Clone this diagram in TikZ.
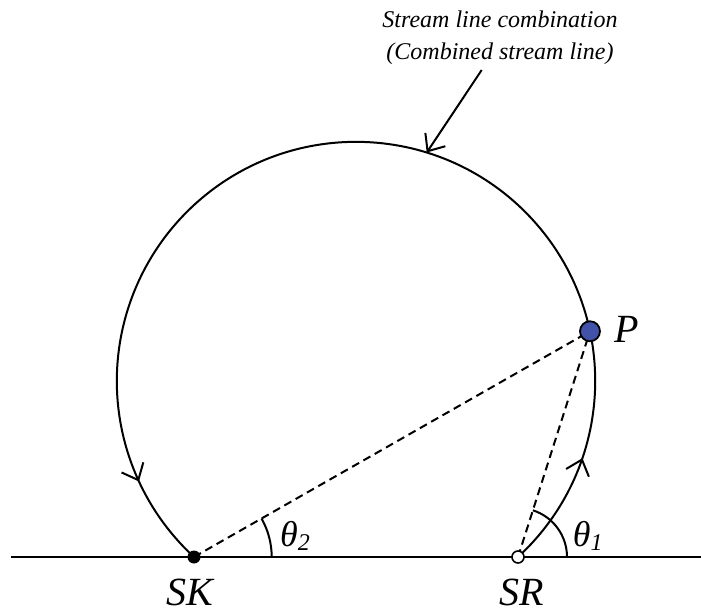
\documentclass[tikz,border=0pt]{standalone}
\usepackage{fontspec}
\setmainfont{Liberation Serif}
\usetikzlibrary{arrows.meta,decorations.markings,calc}
\definecolor{pblue}{RGB}{66,82,168}
\begin{document}
\begin{tikzpicture}[x=1pt,y=1pt,
  baseln/.style={line width=2.4pt},
  stream/.style={line width=2pt},
  dashln/.style={line width=2pt, dash pattern=on 8pt off 5pt},
  anglearc/.style={line width=2pt},
  barb/.tip={Straight Barb[length=14pt,width=24pt,line width=2pt]},
  sinkdot/.style={circle, fill=black, minimum size=13pt, inner sep=0pt},
  srcdot/.style={circle, draw=black, fill=white, line width=1.6pt, minimum size=12pt, inner sep=0pt},
  pdot/.style={circle, draw=black, fill=pblue, line width=1.8pt, minimum size=20pt, inner sep=0pt},
  biglbl/.style={font=\fontsize{40}{40}\selectfont\itshape, inner sep=0pt, anchor=base west},
  thlbl/.style={inner sep=0pt, anchor=base west},
  note/.style={font=\fontsize{24}{31.6}\selectfont\itshape, align=center, inner sep=0pt}
]
\useasboundingbox (0,0) rectangle (701,614);
% baseline
\coordinate (L) at (11,57);
\coordinate (R) at (701,57);
\draw[baseln] (L) -- (R);
% points
\coordinate (C) at (356,233);
\coordinate (SKc) at (194,57);
\coordinate (SRc) at (518,57);
\coordinate (Pc) at ($(C)+(12:239.2)$);
% dashed lines
\draw[dashln] (SKc) -- (Pc);
\draw[dashln] (SRc) -- (Pc);
% streamline circle arc from SR to SK
\draw[stream, postaction={decorate}, decoration={markings,
   mark=at position 0.104 with {\arrow{barb}},
   mark=at position 0.918 with {\arrow{barb}}}]
   (SRc) arc[start angle=-47.37, end angle=227.37, radius=239.2];
% angle arcs
\draw[anglearc] ($(SKc)+(77.7,0)$) arc[start angle=0, end angle=29.7, radius=77.7];
\draw[anglearc] ($(SRc)+(49,0)$) arc[start angle=0, end angle=72.3, radius=49];
% dots
\node[sinkdot] (SK) at (SKc) {};
\node[srcdot] (SR) at (SRc) {};
\node[pdot] (P) at (Pc) {};
% labels
\node[biglbl] (SKl) at (166.7,9) {SK};
\node[biglbl] (SRl) at (499.3,9) {SR};
\node[biglbl] (Pl) at (614.3,271.3) {P};
\node[thlbl] (th2) at (280,67.3) {{\fontsize{36}{36}\selectfont\itshape θ}\raisebox{-4pt}{\fontsize{24}{24}\selectfont\itshape 2}};
\node[thlbl] (th1) at (572.7,67.3) {{\fontsize{36}{36}\selectfont\itshape θ}\raisebox{-4pt}{\fontsize{24}{24}\selectfont\itshape 1}};
% note and pointer
\node[note] (nt) at (500,576) {Stream line combination\\(Combined stream line)};
\coordinate (ptr) at (481.7,544);
\coordinate (top) at ($(C)+(72.8:239.2)$);
\draw[stream, -{barb}] (ptr) -- (top);
\end{tikzpicture}
\end{document}
